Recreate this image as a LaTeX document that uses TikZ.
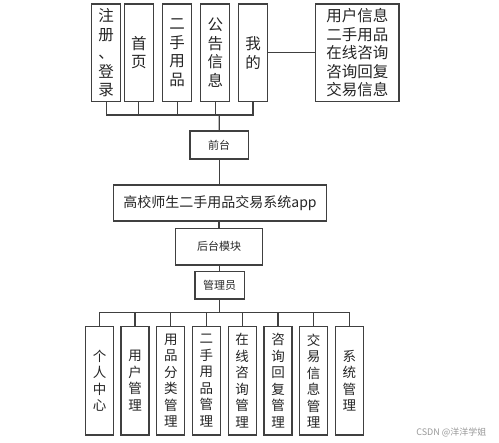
\documentclass[tikz,border=0pt]{standalone}
\usepackage{fontspec}
\newfontfamily\cjk{Noto Sans CJK SC}
\begin{document}
\begin{tikzpicture}[x=1pt,y=-1pt,
  ln/.style={line width=1.2pt, draw=black!75},
  box/.style={ln, rectangle, inner sep=0pt, align=center, text=black!85},
  topbox/.style={box, minimum width=29pt, minimum height=97.7pt, font=\cjk\fontsize{15.5}{18.5}\selectfont},
  botbox/.style={box, minimum width=28pt, minimum height=108.3pt, font=\cjk\fontsize{13.5}{16.5}\selectfont},
  midbox/.style={box, font=\cjk\fontsize{11}{13}\selectfont}]
\useasboundingbox (0,0) rectangle (499,443);
\fill[white] (0,0) rectangle (499,443);
% top row
\node[topbox] (t1) at (106.2,52.85) {注\\册\\、\\登\\录};
\node[topbox] (t2) at (138.8,52.85) {首\\页};
\node[topbox] (t3) at (177.2,52.85) {二\\手\\用\\品};
\node[topbox] (t4) at (215.3,52.85) {公\\告\\信\\息};
\node[topbox] (t5) at (253,52.85) {我\\的};
\node[topbox, minimum width=83.3pt] (tr) at (357.3,52.85) {用户信息\\二手用品\\在线咨询\\咨询回复\\交易信息};
\draw[ln] (t5.east) -- (tr.west);
% front
\node[midbox, minimum width=58.3pt, minimum height=28pt] (qt) at (219.2,145) {前台};
\coordinate (tbus) at (219.3,115);
\draw[ln] (t1.south) |- (tbus) -| (t5.south);
\foreach \n in {t2,t3,t4} \draw[ln] (\n.south) -- (\n.south |- tbus);
\draw[ln] (tbus) -- (qt.north);
% main
\node[box, minimum width=213.4pt, minimum height=36pt, font=\cjk\fontsize{14}{16}\selectfont] (main) at (220,203) {高校师生二手用品交易系统app};
\draw[ln] (qt.south) -- (qt.south |- main.north);
\node[midbox, minimum width=86.6pt, minimum height=36.7pt] (ht) at (219,246.65) {后台模块};
\draw[ln] (main.south -| ht.north) -- (ht.north);
\node[midbox, minimum width=49.3pt, minimum height=27.3pt] (gl) at (219.7,285.35) {管理员};
\draw[ln] (ht.south -| gl.north) -- (gl.north);
% bottom row
\node[botbox] (b1) at (99.5,380.85) {个\\人\\中\\心};
\node[botbox] (b2) at (135,380.85) {用\\户\\管\\理};
\node[botbox] (b3) at (170.8,380.85) {用\\品\\分\\类\\管\\理};
\node[botbox] (b4) at (206.3,380.85) {二\\手\\用\\品\\管\\理};
\node[botbox] (b5) at (242.2,380.85) {在\\线\\咨\\询\\管\\理};
\node[botbox] (b6) at (278,380.85) {咨\\询\\回\\复\\管\\理};
\node[botbox] (b7) at (313.7,380.85) {交\\易\\信\\息\\管\\理};
\node[botbox] (b8) at (349.3,380.85) {系\\统\\管\\理};
\coordinate (bbus) at (219.3,312.7);
\draw[ln] (gl.south) -- (gl.south |- bbus);
\draw[ln] (b1.north) |- (bbus) -| (b8.north);
\foreach \n in {b2,b3,b4,b5,b6,b7} \draw[ln] (\n.north) -- (\n.north |- bbus);
% watermark
\node[font=\cjk\fontsize{9}{10}\selectfont, text=black!40, anchor=east] (wm) at (490,432) {CSDN @洋洋学姐};
\end{tikzpicture}
\end{document}
